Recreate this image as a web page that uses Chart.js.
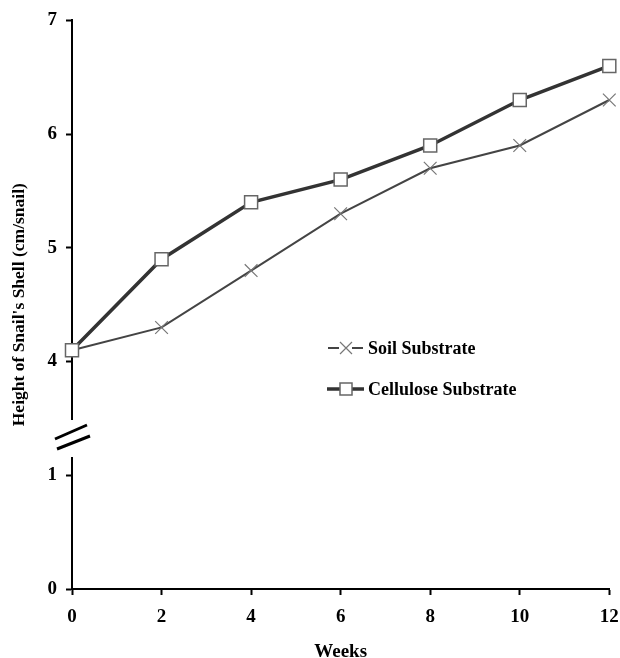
<!DOCTYPE html>
<html>
<head>
<meta charset="utf-8">
<script src="https://cdn.jsdelivr.net/npm/chart.js@4.4.1/dist/chart.umd.min.js"></script>
<style>
    html, body { margin: 0; padding: 0; background: #fff; }
    #wrap { width: 620px; height: 658px; position: relative; }
</style>
</head>
<body>
<div id="wrap"><canvas id="shellChart"></canvas></div>
<script>
// data
const weeks = [0, 2, 4, 6, 8, 10, 12];
const soil = [4.1, 4.3, 4.8, 5.3, 5.7, 5.9, 6.3];
const cellulose = [4.1, 4.9, 5.4, 5.6, 5.9, 6.3, 6.6];
const yTicks = [0, 1, 4, 5, 6, 7];
const xTicks = [0, 2, 4, 6, 8, 10, 12];
const seriesNames = ['Soil Substrate', 'Cellulose Substrate'];

// the y axis is broken between 1 and 4, so 4 sits one step above 1
function toAxis(v) {
    return v >= 4 ? v - 2 : v;
}

const serif = '"Liberation Serif", "Times New Roman", serif';

// break marks + legend drawn on top
const extras = {
    id: 'extras',
    afterDraw(chart) {
        const ctx = chart.ctx;
        const left = chart.chartArea.left;
        ctx.save();
        // gap in the axis
        ctx.fillStyle = '#fff';
        ctx.fillRect(left - 4, 420, 8, 37);
        ctx.strokeStyle = '#000';
        ctx.lineWidth = 3;
        ctx.beginPath();
        ctx.moveTo(55, 439); ctx.lineTo(87, 425);
        ctx.moveTo(57, 449); ctx.lineTo(90, 436);
        ctx.stroke();

        // legend
        ctx.font = 'bold 18px ' + serif;
        ctx.textBaseline = 'middle';
        ctx.fillStyle = '#000';
        // soil
        let y = 348;
        ctx.strokeStyle = '#444';
        ctx.lineWidth = 2;
        ctx.beginPath();
        ctx.moveTo(328, y); ctx.lineTo(339, y);
        ctx.moveTo(352, y); ctx.lineTo(363, y);
        ctx.stroke();
        ctx.strokeStyle = '#777';
        ctx.lineWidth = 1.2;
        ctx.beginPath();
        ctx.moveTo(340, y - 6); ctx.lineTo(352, y + 6);
        ctx.moveTo(352, y - 6); ctx.lineTo(340, y + 6);
        ctx.stroke();
        ctx.fillText(seriesNames[0], 368, y + 1);
        // cellulose
        y = 389;
        ctx.strokeStyle = '#333';
        ctx.lineWidth = 3.5;
        ctx.beginPath();
        ctx.moveTo(327, y); ctx.lineTo(340, y);
        ctx.moveTo(351, y); ctx.lineTo(364, y);
        ctx.stroke();
        ctx.fillStyle = '#fff';
        ctx.strokeStyle = '#666';
        ctx.lineWidth = 1.5;
        ctx.fillRect(340, y - 6, 12, 12);
        ctx.strokeRect(340, y - 6, 12, 12);
        ctx.fillStyle = '#000';
        ctx.fillText(seriesNames[1], 368, y + 1);
        ctx.restore();
    }
};

const ctx = document.getElementById('shellChart').getContext('2d');
new Chart(ctx, {
    type: 'line',
    data: {
        datasets: [{
            label: seriesNames[0],
            data: weeks.map((w, i) => ({ x: w, y: toAxis(soil[i]) })),
            borderColor: '#444',
            borderWidth: 2,
            pointStyle: 'crossRot',
            pointRadius: 9,
            pointBorderColor: '#777',
            pointBorderWidth: 1.2,
            clip: false,
            order: 2,
            tension: 0
        }, {
            label: seriesNames[1],
            data: weeks.map((w, i) => ({ x: w, y: toAxis(cellulose[i]) })),
            borderColor: '#333',
            borderWidth: 3.5,
            pointStyle: 'rect',
            pointRadius: 9.2,
            pointBackgroundColor: '#fff',
            pointBorderColor: '#666',
            pointBorderWidth: 1.5,
            clip: false,
            order: 1,
            tension: 0
        }]
    },
    options: {
        responsive: true,
        maintainAspectRatio: false,
        animation: false,
        layout: {
            padding: { left: 0, top: 20, right: 10, bottom: 0 }
        },
        scales: {
            x: {
                type: 'linear',
                min: 0,
                max: 12,
                afterFit: (scale) => {
                    scale.height = 69;
                    scale.paddingLeft = 0;
                    scale.paddingRight = 0;
                },
                afterBuildTicks: (scale) => { scale.ticks = xTicks.map(v => ({ value: v })); },
                border: { display: true, color: '#000', width: 2 },
                grid: { drawOnChartArea: false, drawTicks: true, tickLength: 6, tickColor: '#000', tickWidth: 2 },
                ticks: {
                    color: '#000',
                    padding: 11,
                    maxRotation: 0,
                    font: { family: serif, size: 19, weight: 'bold' }
                },
                title: {
                    display: true,
                    text: 'Weeks',
                    color: '#000',
                    padding: { top: 0, bottom: -4 },
                    font: { family: serif, size: 19, weight: 'bold', lineHeight: 1 }
                }
            },
            y: {
                min: 0,
                max: 5,
                afterFit: (scale) => { scale.width = 72; },
                border: { display: true, color: '#000', width: 2 },
                grid: { drawOnChartArea: false, drawTicks: true, tickLength: 6, tickColor: '#000', tickWidth: 2 },
                ticks: {
                    stepSize: 1,
                    color: '#000',
                    padding: 9,
                    font: { family: serif, size: 19, weight: 'bold' },
                    callback: (value, i) => yTicks[i]
                },
                title: {
                    display: true,
                    text: "Height of Snail's Shell (cm/snail)",
                    color: '#000',
                    padding: { top: 9, bottom: 0 },
                    font: { family: serif, size: 17.5, weight: 'bold', lineHeight: 1.2 }
                }
            }
        },
        plugins: {
            legend: { display: false },
            tooltip: { enabled: false }
        }
    },
    plugins: [extras]
});
</script>
</body>
</html>
